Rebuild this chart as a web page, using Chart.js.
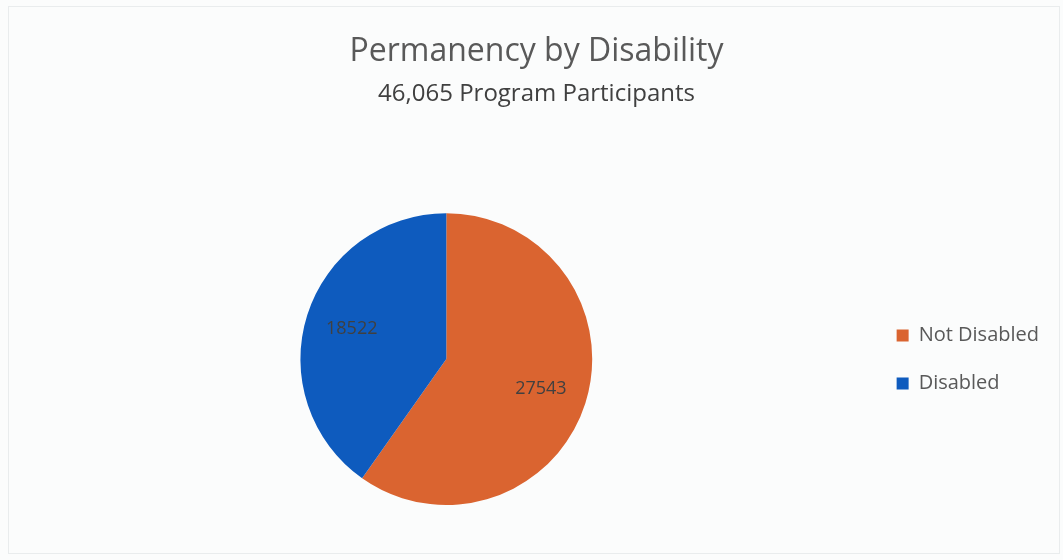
<!DOCTYPE html>
<html>
<head>
<meta charset="utf-8">
<script src="https://cdn.jsdelivr.net/npm/chart.js@4"></script>
<style>
  html, body { margin: 0; padding: 0; background: #fbfcfc; }
  #wrap { position: absolute; left: 8px; top: 6px; width: 1052px; height: 548px; border: 1px solid #e9eced; box-sizing: border-box; }
  #box { position: absolute; left: 0; top: 0; width: 1063px; height: 560px; }
</style>
</head>
<body>
<div id="wrap"></div>
<div id="box"><canvas id="pieChart"></canvas></div>
<script>
const categories = ['Not Disabled', 'Disabled'];
const counts = [27543, 18522];
const sliceColors = ['#DA6430', '#0E5BBE'];
const chartTitle = 'Permanency by Disability';
const chartSubtitle = '46,065 Program Participants';

// writes each count inside its slice, like Excel's inside labels
const sliceLabels = {
    id: 'sliceLabels',
    afterDatasetsDraw(chart) {
        const ctx = chart.ctx;
        const meta = chart.getDatasetMeta(0);
        ctx.save();
        ctx.font = '18px "Open Sans", sans-serif';
        ctx.fillStyle = '#404040';
        ctx.textAlign = 'center';
        ctx.textBaseline = 'middle';
        meta.data.forEach(function (arc, i) {
            const p = arc.getProps(['x', 'y', 'startAngle', 'endAngle', 'outerRadius'], true);
            const mid = (p.startAngle + p.endAngle) / 2;
            const r = p.outerRadius * 0.68;
            ctx.fillText(String(counts[i]), p.x + Math.cos(mid) * r, p.y + Math.sin(mid) * r);
        });
        ctx.restore();
    }
};

document.addEventListener('DOMContentLoaded', function () {
    const canvas = document.getElementById('pieChart');
    const ctx = canvas.getContext('2d');
    new Chart(ctx, {
        type: 'pie',
        data: {
            labels: categories,
            datasets: [{
                data: counts,
                backgroundColor: sliceColors,
                borderWidth: 0
            }]
        },
        plugins: [sliceLabels],
        options: {
            responsive: true,
            maintainAspectRatio: false,
            animation: false,
            layout: {
                padding: { left: 24, right: 14, top: 0, bottom: 55 }
            },
            plugins: {
                title: {
                    display: true,
                    text: chartTitle,
                    color: '#595959',
                    font: { family: '"Open Sans", sans-serif', size: 32, weight: 'normal' },
                    padding: { top: 33, bottom: 8 }
                },
                subtitle: {
                    display: true,
                    text: chartSubtitle,
                    color: '#404040',
                    font: { family: '"Open Sans", sans-serif', size: 24, weight: 'normal' },
                    padding: { top: 0, bottom: 105 }
                },
                legend: {
                    position: 'right',
                    title: {
                        display: true,
                        text: ' ',
                        font: { size: 10 },
                        padding: { top: 202, bottom: 0 }
                    },
                    labels: {
                        boxWidth: 12,
                        boxHeight: 12,
                        padding: 28,
                        color: '#595959',
                        font: { family: '"Open Sans", sans-serif', size: 20 }
                    }
                },
                tooltip: { enabled: false }
            }
        }
    });
});
</script>
</body>
</html>
